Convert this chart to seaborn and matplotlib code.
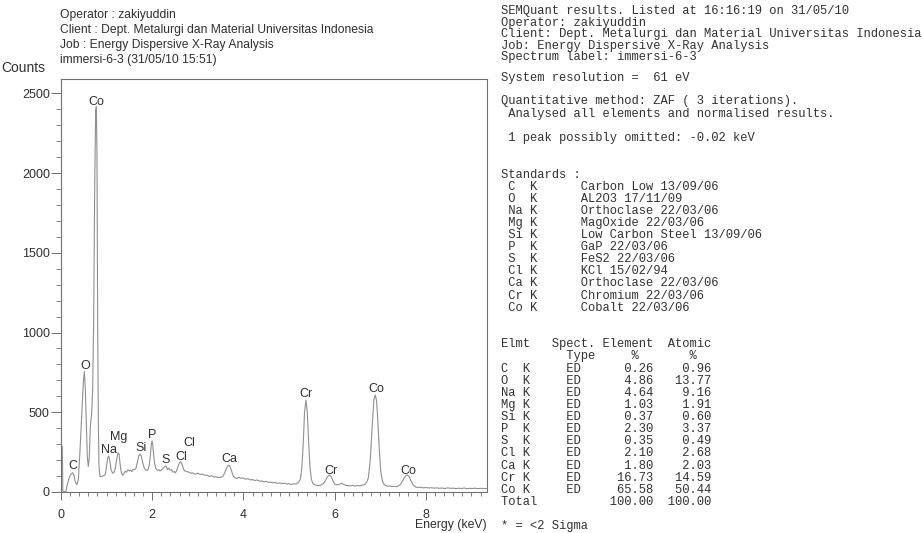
import matplotlib
matplotlib.use("Agg")
import matplotlib.pyplot as plt
from matplotlib.ticker import MultipleLocator
import seaborn as sns
import pandas as pd

# ---------------- spectrum (energy in keV, counts) ----------------
ENERGY_KEV = [
    0.000, 0.010, 0.029, 0.040, 0.051, 0.080, 0.110, 0.124, 0.150, 0.183,
    0.219, 0.256, 0.285, 0.307, 0.344, 0.380, 0.417, 0.453, 0.490, 0.512,
    0.534, 0.556, 0.577, 0.599, 0.621, 0.643, 0.673, 0.694, 0.716, 0.738,
    0.760, 0.775, 0.789, 0.804, 0.819, 0.833, 0.855, 0.885, 0.914, 0.943,
    0.972, 1.002, 1.024, 1.046, 1.068, 1.096, 1.133, 1.162, 1.192, 1.221,
    1.250, 1.272, 1.294, 1.323, 1.352, 1.382, 1.411, 1.440, 1.469, 1.499,
    1.528, 1.557, 1.586, 1.616, 1.645, 1.674, 1.703, 1.732, 1.762, 1.791,
    1.820, 1.849, 1.879, 1.908, 1.937, 1.959, 1.981, 1.996, 2.010, 2.032,
    2.054, 2.083, 2.113, 2.142, 2.171, 2.200, 2.230, 2.259, 2.288, 2.310,
    2.332, 2.361, 2.390, 2.420, 2.449, 2.478, 2.507, 2.537, 2.566, 2.595,
    2.624, 2.654, 2.683, 2.712, 2.756, 2.800, 2.844, 2.888, 2.932, 2.976,
    3.00, 3.05, 3.10, 3.15, 3.20, 3.25, 3.30, 3.35, 3.40, 3.45,
    3.50, 3.55, 3.59, 3.63, 3.67, 3.70, 3.73, 3.77, 3.81, 3.85,
    3.90, 3.95, 4.00, 4.05, 4.10, 4.15, 4.20, 4.25, 4.30, 4.35,
    4.40, 4.45, 4.50, 4.55, 4.60, 4.65, 4.70, 4.75, 4.80, 4.85,
    4.90, 4.95, 5.00, 5.05, 5.10, 5.15, 5.20, 5.25, 5.28, 5.31,
    5.34, 5.37, 5.40, 5.43, 5.46, 5.49, 5.52, 5.56, 5.60, 5.65,
    5.70, 5.75, 5.80, 5.84, 5.88, 5.92, 5.96, 6.00, 6.05, 6.10,
    6.15, 6.20, 6.25, 6.30, 6.35, 6.40, 6.45, 6.50, 6.55, 6.60,
    6.65, 6.70, 6.74, 6.78, 6.82, 6.86, 6.89, 6.92, 6.95, 6.98,
    7.01, 7.05, 7.09, 7.13, 7.17, 7.21, 7.25, 7.30, 7.35, 7.40,
    7.45, 7.50, 7.55, 7.59, 7.63, 7.67, 7.72, 7.77, 7.82, 7.88,
    7.94, 8.00, 8.06, 8.12, 8.18, 8.24, 8.30, 8.36, 8.42, 8.48,
    8.54, 8.60, 8.66, 8.72, 8.78, 8.84, 8.90, 8.96, 9.02, 9.08,
    9.14, 9.20, 9.26, 9.34,
]
COUNTS = [
    847, 290, 284, 10, 0, 2, 4, 30, 60, 92,
    112, 121, 105, 70, 46, 75, 263, 472, 690, 755,
    640, 433, 221, 160, 220, 410, 494, 640, 1060, 1894,
    2395, 2416, 2102, 1060, 433, 159, 96, 98, 100, 104,
    110, 170, 215, 226, 200, 140, 118, 122, 150, 205,
    245, 240, 180, 120, 105, 115, 130, 125, 140, 132,
    138, 128, 142, 140, 150, 185, 225, 238, 225, 185,
    155, 140, 135, 140, 170, 230, 300, 320, 300, 230,
    175, 145, 135, 140, 132, 138, 145, 155, 163, 160,
    140, 150, 138, 140, 125, 128, 120, 135, 160, 182,
    190, 175, 145, 132, 128, 125, 118, 120, 112, 115,
    118, 110, 112, 104, 106, 98, 102, 94, 96, 90,
    92, 98, 120, 150, 168, 165, 140, 105, 90, 84,
    92, 86, 88, 80, 84, 76, 78, 72, 75, 68,
    70, 64, 67, 60, 62, 57, 60, 54, 57, 52,
    55, 50, 53, 48, 51, 50, 58, 80, 150, 300,
    500, 577, 500, 310, 150, 80, 55, 45, 42, 40,
    44, 52, 72, 95, 107, 98, 72, 50, 44, 48,
    56, 47, 41, 40, 38, 41, 37, 40, 38, 42,
    46, 60, 90, 200, 400, 580, 608, 570, 430, 260,
    130, 65, 45, 38, 36, 38, 34, 36, 33, 38,
    50, 75, 100, 107, 98, 72, 45, 32, 28, 30,
    26, 28, 25, 27, 24, 26, 23, 25, 22, 26,
    23, 24, 21, 24, 22, 25, 21, 23, 22, 24,
    21, 23, 22, 22,
]

# ---------------- peak identification labels ----------------
PEAK_NAMES = ["C", "O", "Co", "Na", "Mg", "Si", "P", "S", "Cl", "Cl",
              "Ca", "Cr", "Cr", "Co", "Co"]
PEAK_LABEL_KEV = [0.252, 0.526, 0.768, 1.053, 1.257, 1.754, 2.002, 2.303,
                  2.632, 2.814, 3.684, 5.373, 5.914, 6.908, 7.616]
PEAK_LABEL_COUNTS = [163, 790, 2447, 263, 343, 274, 357, 201,
                     218, 305, 207, 615, 134, 644, 134]

X_TICKS = [0, 2, 4, 6, 8]
Y_TICKS = [0, 500, 1000, 1500, 2000, 2500]

# ---------------- report text ----------------
HEADER_LEFT = [
    "Operator : zakiyuddin",
    "Client : Dept. Metalurgi dan Material Universitas Indonesia",
    "Job : Energy Dispersive X-Ray Analysis",
    "immersi-6-3 (31/05/10 15:51)",
]
REPORT_HEAD = [
    "SEMQuant results. Listed at 16:16:19 on 31/05/10",
    "Operator: zakiyuddin",
    "Client: Dept. Metalurgi dan Material Universitas Indonesia",
    "Job: Energy Dispersive X-Ray Analysis",
    "Spectrum label: immersi-6-3",
    "System resolution =  61 eV",
    "Quantitative method: ZAF ( 3 iterations).",
    " Analysed all elements and normalised results.",
    " 1 peak possibly omitted: -0.02 keV",
]
ELEMENTS = ["C", "O", "Na", "Mg", "Si", "P", "S", "Cl", "Ca", "Cr", "Co"]
STANDARDS = ["Carbon Low 13/09/06", "AL2O3 17/11/09", "Orthoclase 22/03/06",
             "MagOxide 22/03/06", "Low Carbon Steel 13/09/06", "GaP 22/03/06",
             "FeS2 22/03/06", "KCl 15/02/94", "Orthoclase 22/03/06",
             "Chromium 22/03/06", "Cobalt 22/03/06"]
SPECT_TYPE = ["ED"] * 11
ELEMENT_PCT = ["0.26", "4.86", "4.64", "1.03", "0.37", "2.30", "0.35",
               "2.10", "1.80", "16.73", "65.58"]
ATOMIC_PCT = ["0.96", "13.77", "9.16", "1.91", "0.60", "3.37", "0.49",
              "2.68", "2.03", "14.59", "50.44"]
TOTALS = ["100.00", "100.00"]

# ---------------- styling ----------------
sns.set_theme(style="white")
plt.rcParams["font.family"] = ["Liberation Sans", "DejaVu Sans"]

W, H = 923, 533
fig = plt.figure(figsize=(W / 100, H / 100), dpi=100)


def fx(px):
    return px / W


def fy(py):
    return 1 - py / H


ink = "#303030"
frame = "#707070"

ax = fig.add_axes([fx(61), fy(492), fx(487 - 61), (492 - 79) / H])

df = pd.DataFrame({"Energy (keV)": ENERGY_KEV, "Counts": COUNTS})
sns.lineplot(data=df, x="Energy (keV)", y="Counts", ax=ax, sort=False,
             color="#909090", linewidth=0.8)

ax.set_xlim(0, 9.34)
ax.set_ylim(0, 2590)
ax.set_xticks(X_TICKS)
ax.set_yticks(Y_TICKS)
ax.xaxis.set_minor_locator(MultipleLocator(0.2))
ax.yaxis.set_minor_locator(MultipleLocator(100))
ax.tick_params(axis="y", which="major", direction="out", length=7.5, width=0.7,
               color=frame, pad=0.5, labelsize=9, labelcolor=ink, left=True)
ax.tick_params(axis="y", which="minor", direction="out", length=3.5, width=0.6,
               color=frame, left=True)
ax.tick_params(axis="x", which="major", direction="out", length=6, width=0.7,
               color=frame, pad=6, labelsize=9, labelcolor=ink, bottom=True)
ax.tick_params(axis="x", which="minor", direction="out", length=3, width=0.6,
               color=frame, bottom=True)
for side in ["left", "bottom", "top", "right"]:
    ax.spines[side].set_visible(True)
    ax.spines[side].set_color(frame)
    ax.spines[side].set_linewidth(0.8)
ax.set_xlabel("")
ax.set_ylabel("")
ax.grid(False)

for name, e, c in zip(PEAK_NAMES, PEAK_LABEL_KEV, PEAK_LABEL_COUNTS):
    ax.text(e, c, name, ha="center", va="center", fontsize=9, color=ink)

# axis titles
fig.text(fx(487), fy(525), "Energy (keV)", ha="right", va="center",
         fontsize=8.8, color=ink)
fig.text(fx(1), fy(68), "Counts", ha="left", va="center", fontsize=10,
         color=ink)

# header over the spectrum
for i, line in enumerate(HEADER_LEFT):
    fig.text(fx(60), fy(15 + 15 * i), line, ha="left", va="center",
             fontsize=8.7, color=ink)

# quantitative report on the right
mono = dict(family=["Liberation Mono", "DejaVu Sans Mono"], fontsize=8.75,
            color="#333333", ha="left", va="center")
x0 = fx(501)
head_y = [11.3, 22.8, 34.3, 45.8, 57.3, 78.3, 101.2, 113.5, 137.7]
for y, line in zip(head_y, REPORT_HEAD):
    fig.text(x0, fy(y), line, **mono)

fig.text(x0, fy(175.2), "Standards :", **mono)
for i, (el, std) in enumerate(zip(ELEMENTS, STANDARDS)):
    fig.text(x0, fy(187.0 + 12.06 * i), f" {el:<3}K      {std}", **mono)

fig.text(x0, fy(344.0), "Elmt   Spect. Element  Atomic", **mono)
fig.text(x0, fy(356.4), "         Type     %       %", **mono)
for i, (el, st, ep, ap) in enumerate(zip(ELEMENTS, SPECT_TYPE,
                                         ELEMENT_PCT, ATOMIC_PCT)):
    row = f"{el:<3}K".ljust(9) + st + f"{ep:>10}{ap:>8}"
    fig.text(x0, fy(368.5 + 12.13 * i), row, **mono)
fig.text(x0, fy(368.5 + 12.13 * 11),
         f"{'Total':<11}{TOTALS[0]:>10}{TOTALS[1]:>8}", **mono)
fig.text(x0, fy(525.5), "* = <2 Sigma", **mono)

fig.savefig("out.png", dpi=100, facecolor="white")
